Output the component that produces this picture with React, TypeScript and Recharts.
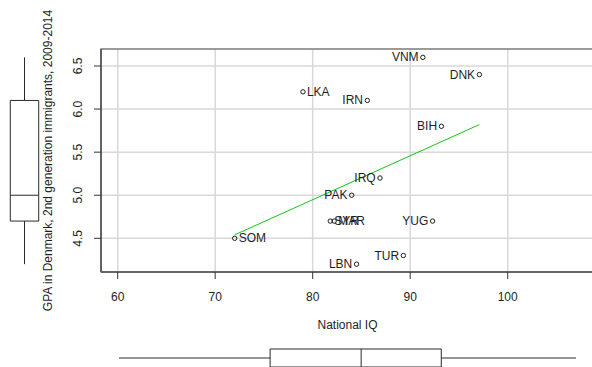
import React from 'react';
import {
  ScatterChart,
  Scatter,
  XAxis,
  YAxis,
  CartesianGrid,
  ReferenceArea,
  ReferenceLine,
  ComposedChart,
} from 'recharts';

// ---- data ----
const countries = ['VNM', 'DNK', 'IRN', 'LKA', 'BIH', 'IRQ', 'PAK', 'YUG', 'SYR', 'MAR', 'TUR', 'LBN', 'SOM'];
const nationalIQ = [91.3, 97.1, 85.6, 79.0, 93.2, 86.9, 84.0, 92.3, 81.8, 82.2, 89.3, 84.5, 72.0];
const gpaValues = [6.6, 6.4, 6.1, 6.2, 5.8, 5.2, 5.0, 4.7, 4.7, 4.7, 4.3, 4.2, 4.5];

// fitted line end points
const trendIQ = [72.0, 97.1];
const trendGPA = [4.54, 5.82];

// marginal box plots: [min, lower hinge, median, upper hinge, max]
const gpaBox = [4.2, 4.7, 5.0, 6.1, 6.6];
const iqBox = [72.0, 80.3, 85.3, 89.7, 97.1];

const xTicks = [60, 70, 80, 90, 100];
const yTicks = [4.5, 5.0, 5.5, 6.0, 6.5];

const xTitle = 'National IQ';
const yTitle = 'GPA in Denmark, 2nd generation immigrants, 2009-2014';

// label placement (style config)
const RIGHT_LABELS = new Set(['LKA', 'SOM', 'SYR', 'MAR']);

// ---- layout ----
const X_DOMAIN: [number, number] = [58.29, 108.85];
const Y_DOMAIN: [number, number] = [4.109, 6.697];
const FONT = '"Liberation Sans", Arial, Helvetica, sans-serif';
const TEXT = '#1e1e1e';

const points = countries.map((name, i) => ({ name, x: nationalIQ[i], y: gpaValues[i] }));
const trend = trendIQ.map((x, i) => ({ x, y: trendGPA[i] }));

const PointShape = (props: any) => {
  const { cx, cy, payload } = props;
  if (cx == null || cy == null) return <g />;
  const right = RIGHT_LABELS.has(payload.name);
  return (
    <g>
      <circle cx={cx} cy={cy} r={2.2} fill="none" stroke={TEXT} strokeWidth={1} />
      <text
        x={right ? cx + 4 : cx - 4.3}
        y={cy}
        textAnchor={right ? 'start' : 'end'}
        dominantBaseline="central"
        fontSize={12}
        fontFamily={FONT}
        fill={TEXT}
      >
        {payload.name}
      </text>
    </g>
  );
};

const XTick = (props: any) => {
  const { x, y, payload } = props;
  return (
    <text x={x} y={y + 20} textAnchor="middle" fontSize={12} fontFamily={FONT} fill={TEXT}>
      {payload.value}
    </text>
  );
};

const YTick = (props: any) => {
  const { x, y, payload } = props;
  const bx = x - 9.5;
  return (
    <text
      x={bx}
      y={y}
      transform={`rotate(-90, ${bx}, ${y})`}
      textAnchor="middle"
      fontSize={12}
      fontFamily={FONT}
      fill={TEXT}
    >
      {Number(payload.value).toFixed(1)}
    </text>
  );
};

const XTitle = (props: any) => {
  const vb = props.viewBox || {};
  const cx = (vb.x ?? 101) + (vb.width ?? 493) / 2;
  return (
    <text x={cx} y={329} textAnchor="middle" fontSize={12} fontFamily={FONT} fill={TEXT}>
      {xTitle}
    </text>
  );
};

const YTitle = (props: any) => {
  const vb = props.viewBox || {};
  const cy = (vb.y ?? 49) + (vb.height ?? 223) / 2;
  const bx = 52.3;
  return (
    <text
      x={bx}
      y={cy}
      transform={`rotate(-90, ${bx}, ${cy})`}
      textAnchor="middle"
      fontSize={12}
      fontFamily={FONT}
      fill={TEXT}
    >
      {yTitle}
    </text>
  );
};

const BOX_STROKE = '#2a2a2a';

export default function App() {
  return (
    <div style={{ position: 'relative', width: 592, height: 367, overflow: 'hidden', background: '#fff' }}>
      <style>{`body{margin:0;}`}</style>

      {/* main scatter */}
      <div style={{ position: 'absolute', left: 0, top: 0 }}>
        <ScatterChart width={600} height={367} margin={{ top: 49, right: 6, bottom: 35, left: 41 }}>
          <CartesianGrid stroke="#d8d8d8" strokeWidth={1.5} />
          <XAxis
            type="number"
            dataKey="x"
            domain={X_DOMAIN}
            allowDataOverflow
            ticks={xTicks}
            height={60}
            tickSize={7}
            tick={<XTick />}
            axisLine={{ stroke: '#555', strokeWidth: 1.5 }}
            tickLine={{ stroke: '#333' }}
            label={<XTitle />}
          />
          <YAxis
            type="number"
            dataKey="y"
            domain={Y_DOMAIN}
            allowDataOverflow
            ticks={yTicks}
            width={60}
            tickSize={7}
            tick={<YTick />}
            axisLine={{ stroke: '#555', strokeWidth: 1.5 }}
            tickLine={{ stroke: '#333' }}
            label={<YTitle />}
          />
          <ReferenceArea
            x1={X_DOMAIN[0]}
            x2={X_DOMAIN[1]}
            y1={Y_DOMAIN[0]}
            y2={Y_DOMAIN[1]}
            fill="none"
            fillOpacity={0}
            stroke="#555"
            strokeWidth={1.2}
            ifOverflow="visible"
          />
          <Scatter
            data={trend}
            line={{ stroke: '#11c611', strokeWidth: 1 }}
            shape={() => <g />}
            isAnimationActive={false}
          />
          <Scatter data={points} shape={<PointShape />} isAnimationActive={false} />
        </ScatterChart>
      </div>

      {/* left marginal box plot (GPA) */}
      <div style={{ position: 'absolute', left: 0, top: 0 }}>
        <ComposedChart width={49} height={367} margin={{ top: 49, right: 0, bottom: 95, left: 0 }} data={[{}]}>
          <XAxis type="number" dataKey="bx" domain={[0, 1]} hide allowDataOverflow />
          <YAxis type="number" domain={Y_DOMAIN} hide allowDataOverflow />
          <ReferenceLine segment={[{ x: 0.5, y: gpaBox[0] }, { x: 0.5, y: gpaBox[1] }]} stroke={BOX_STROKE} ifOverflow="visible" />
          <ReferenceLine segment={[{ x: 0.5, y: gpaBox[3] }, { x: 0.5, y: gpaBox[4] }]} stroke={BOX_STROKE} ifOverflow="visible" />
          <ReferenceArea x1={0.21} x2={0.79} y1={gpaBox[1]} y2={gpaBox[3]} fill="#fff" fillOpacity={1} stroke={BOX_STROKE} ifOverflow="visible" />
          <ReferenceLine segment={[{ x: 0.21, y: gpaBox[2] }, { x: 0.79, y: gpaBox[2] }]} stroke={BOX_STROKE} ifOverflow="visible" />
        </ComposedChart>
      </div>

      {/* bottom marginal box plot (IQ) */}
      <div style={{ position: 'absolute', left: 0, top: 331 }}>
        <ComposedChart width={592} height={54} margin={{ top: 0, right: 16, bottom: 0, left: 119 }} data={[{}]}>
          <XAxis type="number" dataKey="bx" domain={[iqBox[0], iqBox[4]]} hide allowDataOverflow />
          <YAxis type="number" domain={[0, 1]} hide allowDataOverflow />
          <ReferenceLine segment={[{ x: iqBox[0], y: 0.5 }, { x: iqBox[1], y: 0.5 }]} stroke={BOX_STROKE} ifOverflow="visible" />
          <ReferenceLine segment={[{ x: iqBox[3], y: 0.5 }, { x: iqBox[4], y: 0.5 }]} stroke={BOX_STROKE} ifOverflow="visible" />
          <ReferenceArea x1={iqBox[1]} x2={iqBox[3]} y1={0.3333} y2={0.6667} fill="#fff" fillOpacity={1} stroke={BOX_STROKE} ifOverflow="visible" />
          <ReferenceLine segment={[{ x: iqBox[2], y: 0.3333 }, { x: iqBox[2], y: 0.6667 }]} stroke={BOX_STROKE} ifOverflow="visible" />
        </ComposedChart>
      </div>
    </div>
  );
}
